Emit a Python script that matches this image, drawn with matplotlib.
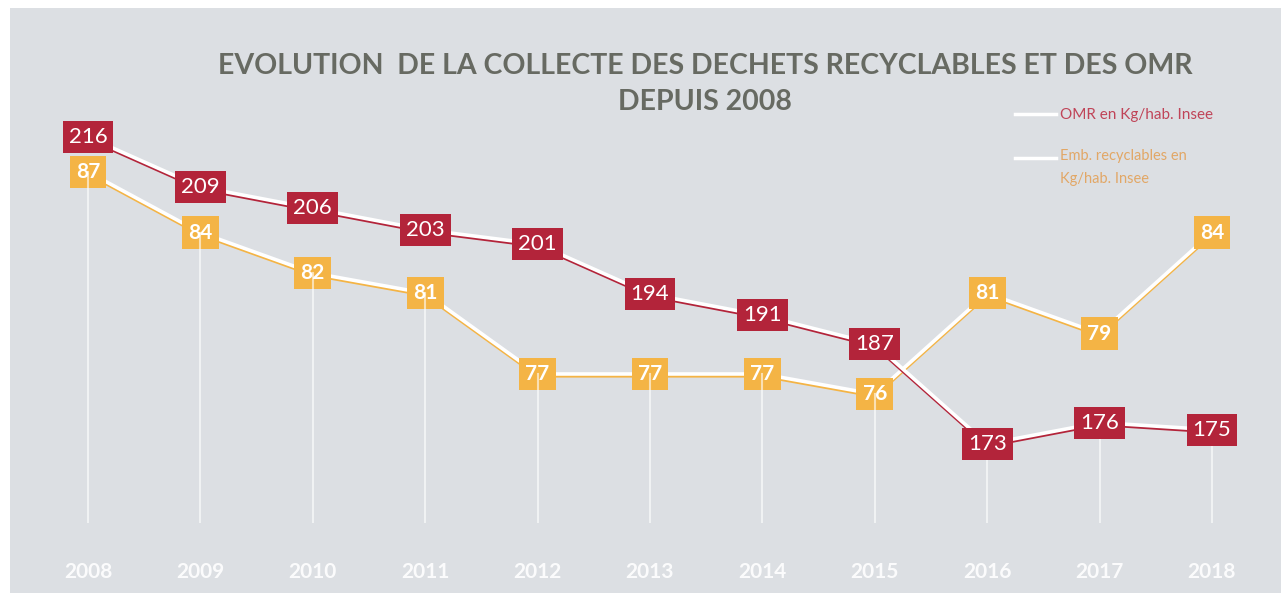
import matplotlib
matplotlib.use("Agg")
import matplotlib.pyplot as plt
import matplotlib.patheffects as pe
from matplotlib.patches import Rectangle

years = [2008, 2009, 2010, 2011, 2012, 2013, 2014, 2015, 2016, 2017, 2018]
omr = [216, 209, 206, 203, 201, 194, 191, 187, 173, 176, 175]
recyclables = [87, 84, 82, 81, 77, 77, 77, 76, 81, 79, 84]

title_1 = "EVOLUTION  DE LA COLLECTE DES DECHETS RECYCLABLES ET DES OMR"
title_2 = "DEPUIS 2008"
label_omr = "OMR en Kg/hab. Insee"
label_rec = "Emb. recyclables en\nKg/hab. Insee"

red = "#b3243a"
yellow = "#f4b445"
bg = "#dcdfe3"

plt.rcParams['font.family'] = ['Lato', 'DejaVu Sans']

fig = plt.figure(figsize=(12.81, 5.93), dpi=100)
fig.patch.set_facecolor("white")
fig.patches.append(Rectangle((10 / 1281, 0), 1, 1 - 8 / 593, transform=fig.transFigure,
                             facecolor=bg, edgecolor="none", zorder=0))

ax = fig.add_axes([0, 0, 1, 1])
ax.set_facecolor("none")
ax2 = ax.twinx()
ax2.set_facecolor("none")
for a in (ax, ax2):
    for s in a.spines.values():
        s.set_visible(False)
    a.set_yticks([])

ax.set_xlim(2007.217, 2018.614)
ax.set_ylim(152.13, 235.19)
ax2.set_ylim(66.16, 95.51)
ax.set_xticks([])

# drop lines from the lowest marker down
lo1, hi1 = ax.get_ylim()
lo2, hi2 = ax2.get_ylim()
for yr, o, r in zip(years, omr, recyclables):
    f1 = (o - lo1) / (hi1 - lo1)
    f2 = (r - lo2) / (hi2 - lo2)
    ax.axvline(yr, ymin=0.12, ymax=min(f1, f2), color="white", lw=1.5, alpha=0.6, zorder=1)

# year labels
for yr in years:
    ax.text(yr, 0.035, str(yr), transform=ax.get_xaxis_transform(), ha="center", va="center",
            color="white", fontsize=15, fontweight="bold", alpha=0.9)

# lines: white with a coloured lower edge
ax.plot(years, omr, color="white", lw=2.6, zorder=3,
        path_effects=[pe.SimpleLineShadow(offset=(0, -1.3), shadow_color=red, alpha=1),
                      pe.Normal()])
ax2.plot(years, recyclables, color="white", lw=2.6, zorder=3,
         path_effects=[pe.SimpleLineShadow(offset=(0, -1.3), shadow_color=yellow, alpha=1),
                       pe.Normal()])

for yr, r in zip(years, recyclables):
    ax2.text(yr, r, str(r), ha="center", va="center", color="white", fontsize=15,
             fontweight="bold", zorder=5,
             bbox=dict(boxstyle="square,pad=0.3", facecolor=yellow, edgecolor="none"))
for yr, o in zip(years, omr):
    ax.text(yr, o, str(o), ha="center", va="center", color="white", fontsize=16,
            zorder=6, bbox=dict(boxstyle="square,pad=0.27", facecolor=red, edgecolor="none"))
ax.set_zorder(2)
ax2.set_zorder(1)

# title
fig.text(705 / 1281, 1 - 66 / 593, title_1, ha="center", va="center", fontsize=20.5,
         fontweight="bold", color="#676a62")
fig.text(705 / 1281, 1 - 102 / 593, title_2, ha="center", va="center", fontsize=20.5,
         fontweight="bold", color="#676a62")

# legend
fig.lines.append(plt.Line2D([1015 / 1281, 1056 / 1281], [1 - 114 / 593, 1 - 114 / 593],
                            transform=fig.transFigure, color="white", lw=2.5))
fig.lines.append(plt.Line2D([1015 / 1281, 1056 / 1281], [1 - 158 / 593, 1 - 158 / 593],
                            transform=fig.transFigure, color="white", lw=2.5))
fig.text(1060 / 1281, 1 - 115 / 593, label_omr, ha="left", va="center", fontsize=11,
         color="#c04458")
fig.text(1060 / 1281, 1 - 149 / 593, label_rec, ha="left", va="top", fontsize=10.5,
         color="#e2a766", linespacing=1.85)

fig.savefig("out.png", dpi=100)
